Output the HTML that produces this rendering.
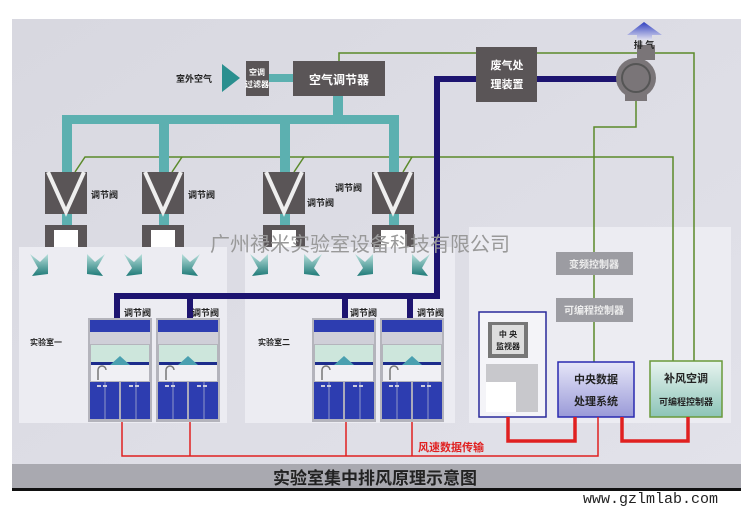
<!DOCTYPE html>
<html><head><meta charset="utf-8"><style>
body{margin:0;background:#fff;width:750px;height:515px;overflow:hidden}
svg text{font-family:"Liberation Sans","Noto Sans CJK SC",sans-serif;font-weight:bold}
</style></head><body>
<svg width="750" height="515" viewBox="0 0 750 515" xmlns="http://www.w3.org/2000/svg">
<defs>
<linearGradient id="bg" x1="0" y1="0" x2="1" y2="1"><stop offset="0" stop-color="#d8d8e0"/><stop offset="1" stop-color="#e2e2ea"/></linearGradient>
<linearGradient id="ar" x1="0" y1="0" x2="0" y2="1"><stop offset="0" stop-color="#b8e0dc"/><stop offset="1" stop-color="#1e7a78"/></linearGradient>
<linearGradient id="ex" x1="0" y1="0" x2="0" y2="1"><stop offset="0" stop-color="#3040c0"/><stop offset="1" stop-color="#e0e0f0"/></linearGradient>
<linearGradient id="cp" x1="0" y1="0" x2="0" y2="1"><stop offset="0" stop-color="#e6e6f8"/><stop offset="1" stop-color="#9a9ad8"/></linearGradient>
<linearGradient id="bf" x1="0" y1="0" x2="0" y2="1"><stop offset="0" stop-color="#e8f4f0"/><stop offset="1" stop-color="#8cc4b8"/></linearGradient>
<g id="damper"><rect x="0" y="0" width="42" height="42" fill="#5a5557"/><path d="M3 0 L21 40 L39 0" fill="none" stroke="#eee" stroke-width="4"/><rect x="0" y="53" width="42" height="22" fill="#5a5557"/><rect x="9" y="58" width="24" height="17" fill="#fff"/></g>
<g id="arr"><path d="M0 0 L10 8 L18 0 L18 20 L2 22 L8 14 Z" fill="url(#ar)"/></g>
<g id="hood"><rect x="0" y="0" width="64" height="104" fill="#b4b4bc"/><rect x="2" y="2" width="60" height="12" fill="#2d3db0"/><rect x="2" y="14" width="60" height="12" fill="#cfcfd8"/><rect x="3" y="27" width="58" height="18" fill="#cde6dc"/><rect x="3" y="44" width="58" height="3" fill="#1c2c8c"/><path d="M22 47 L32 38 L42 47 Z" fill="#4aa0b0"/><rect x="3" y="47" width="58" height="16" fill="#f0f0f4"/><path d="M10 62 V52 a4 4 0 0 1 8 0" fill="none" stroke="#777" stroke-width="1.5"/><rect x="2" y="64" width="60" height="37" fill="#2d3db0"/><line x1="17" y1="64" x2="17" y2="101" stroke="#9098c8"/><line x1="32" y1="64" x2="32" y2="101" stroke="#aab" stroke-width="2"/><line x1="48" y1="64" x2="48" y2="101" stroke="#9098c8"/><rect x="9" y="67" width="4" height="2" fill="#ccd"/><rect x="15" y="67" width="4" height="2" fill="#ccd"/><rect x="41" y="67" width="4" height="2" fill="#ccd"/><rect x="47" y="67" width="4" height="2" fill="#ccd"/></g>
</defs>
<rect x="12" y="19" width="729" height="472" fill="url(#bg)"/>
<rect x="19" y="247" width="208" height="176" fill="#ececf2"/>
<rect x="245" y="247" width="210" height="176" fill="#ececf2"/>
<rect x="469" y="227" width="262" height="196" fill="#ececf2"/>
<rect x="12" y="464" width="729" height="25" fill="#a9a9b0"/>
<rect x="12" y="488" width="729" height="3" fill="#111"/>
<text x="375" y="484" font-size="17" text-anchor="middle" fill="#222">实验室集中排风原理示意图</text>
<text x="718" y="503" font-size="15" text-anchor="end" fill="#222" style="font-family:'Liberation Mono',monospace;font-weight:normal">www.gzlmlab.com</text>

<g fill="none" stroke="#5b8a2a" stroke-width="1.5">
<polyline points="339,62 339,53 694,53 694,362"/>
<polyline points="75,172 85,157 673,157 673,362"/>
<line x1="172" y1="172" x2="182" y2="157"/><line x1="294" y1="172" x2="304" y2="157"/><line x1="403" y1="172" x2="412" y2="157"/>
<polyline points="636,100 636,127 594,127 594,362"/>
</g>
<g fill="#5cb0b0">
<rect x="268" y="74" width="26" height="8"/>
<rect x="333" y="96" width="10" height="22"/>
<rect x="62" y="115" width="334" height="9"/>
<rect x="62" y="115" width="10" height="58"/><rect x="159" y="115" width="10" height="58"/><rect x="280" y="115" width="10" height="58"/><rect x="389" y="115" width="10" height="58"/>
<rect x="62" y="213" width="10" height="14"/><rect x="159" y="213" width="10" height="14"/><rect x="280" y="213" width="10" height="14"/><rect x="389" y="213" width="10" height="14"/>
</g>
<use href="#damper" x="45" y="172"/><use href="#damper" x="142" y="172"/><use href="#damper" x="263" y="172"/><use href="#damper" x="372" y="172"/>
<g font-size="9" fill="#222"><text x="91" y="198">调节阀</text><text x="188" y="198">调节阀</text><text x="307" y="206">调节阀</text><text x="335" y="191">调节阀</text></g>
<g><use href="#arr" x="30" y="254"/><use href="#arr" transform="translate(105,254) scale(-1,1)"/><use href="#arr" x="124" y="254"/><use href="#arr" transform="translate(200,254) scale(-1,1)"/><use href="#arr" x="250" y="254"/><use href="#arr" transform="translate(322,254) scale(-1,1)"/><use href="#arr" x="355" y="254"/><use href="#arr" transform="translate(430,254) scale(-1,1)"/></g>

<text x="176" y="82" font-size="9" fill="#222">室外空气</text>
<path d="M222 64 L240 78 L222 92 Z" fill="#2a8f8f"/>
<rect x="246" y="61" width="23" height="35" fill="#5a5557"/>
<text x="257" y="75" font-size="8" fill="#fff" text-anchor="middle">空调</text><text x="257" y="87" font-size="8" fill="#fff" text-anchor="middle">过滤器</text>
<rect x="293" y="61" width="92" height="35" fill="#5a5557"/>
<text x="339" y="84" font-size="12" fill="#fff" text-anchor="middle">空气调节器</text>
<g fill="none" stroke="#1d1470" stroke-width="6">
<polyline points="478,79 437,79 437,296 117,296 117,318"/>
<line x1="190" y1="296" x2="190" y2="318"/><line x1="345" y1="296" x2="345" y2="318"/><line x1="410" y1="296" x2="410" y2="318"/>
<line x1="537" y1="79" x2="620" y2="79"/>
</g>
<rect x="476" y="47" width="61" height="55" fill="#5a5557"/>
<text x="507" y="69" font-size="11" fill="#fff" text-anchor="middle">废气处</text><text x="507" y="88" font-size="11" fill="#fff" text-anchor="middle">理装置</text>
<rect x="625" y="92" width="22" height="9" fill="#7a7578"/>
<rect x="637" y="45" width="18" height="15" fill="#7a7578"/>
<circle cx="636" cy="78" r="20" fill="#7a7578"/><circle cx="636" cy="78" r="14" fill="none" stroke="#555" stroke-width="2"/>
<path d="M627 35 L644 22 L662 35 L652 35 L652 40 L637 40 L637 35 Z" fill="url(#ex)"/>
<text x="644" y="48" font-size="9" fill="#222" text-anchor="middle">排 气</text>

<text x="360" y="251" font-size="20" fill="#999" text-anchor="middle" style="font-weight:normal">广州禄米实验室设备科技有限公司</text>

<rect x="556" y="252" width="77" height="23" fill="#9c9ca2"/><text x="594" y="268" font-size="10" fill="#eee" text-anchor="middle">变频控制器</text>
<rect x="556" y="298" width="77" height="24" fill="#9c9ca2"/><text x="594" y="314" font-size="10" fill="#eee" text-anchor="middle">可编程控制器</text>
<rect x="558" y="362" width="76" height="55" fill="url(#cp)" stroke="#2a2ab0" stroke-width="1.5"/>
<text x="596" y="383" font-size="11" fill="#222" text-anchor="middle">中央数据</text><text x="596" y="405" font-size="11" fill="#222" text-anchor="middle">处理系统</text>
<rect x="650" y="361" width="72" height="56" fill="url(#bf)" stroke="#6a9a3a" stroke-width="1.5"/>
<text x="686" y="382" font-size="11" fill="#222" text-anchor="middle">补风空调</text><text x="686" y="405" font-size="9" fill="#222" text-anchor="middle">可编程控制器</text>
<rect x="479" y="312" width="67" height="105" fill="#f4f4f8" stroke="#2a2a9a" stroke-width="1.5"/>
<rect x="488" y="322" width="40" height="36" fill="#777"/><rect x="492" y="325" width="32" height="29" fill="#ddd"/>
<text x="508" y="337" font-size="8" fill="#222" text-anchor="middle">中 央</text><text x="508" y="349" font-size="8" fill="#222" text-anchor="middle">监视器</text>
<rect x="486" y="364" width="52" height="48" fill="#c8c8cc"/><rect x="486" y="382" width="30" height="30" fill="#fff"/>

<use href="#hood" x="88" y="318"/><use href="#hood" x="156" y="318"/><use href="#hood" x="312" y="318"/><use href="#hood" x="380" y="318"/>
<g font-size="9" fill="#222"><text x="124" y="316">调节阀</text><text x="192" y="316">调节阀</text><text x="350" y="316">调节阀</text><text x="417" y="316">调节阀</text></g>
<text x="30" y="345" font-size="8" fill="#222">实验室一</text><text x="258" y="345" font-size="8" fill="#222">实验室二</text>
<g fill="none" stroke="#e02020" stroke-width="1.5">
<polyline points="122,422 122,456 598,456 598,417"/><line x1="190" y1="422" x2="190" y2="456"/><line x1="346" y1="422" x2="346" y2="456"/><line x1="412" y1="422" x2="412" y2="456"/>
</g>
<g fill="none" stroke="#e02020" stroke-width="3.5">
<polyline points="508,417 508,441 575,441 575,417"/><polyline points="622,417 622,441 688,441 688,417"/>
</g>
<text x="418" y="451" font-size="11" fill="#e02020">风速数据传输</text>
</svg>
</body></html>
